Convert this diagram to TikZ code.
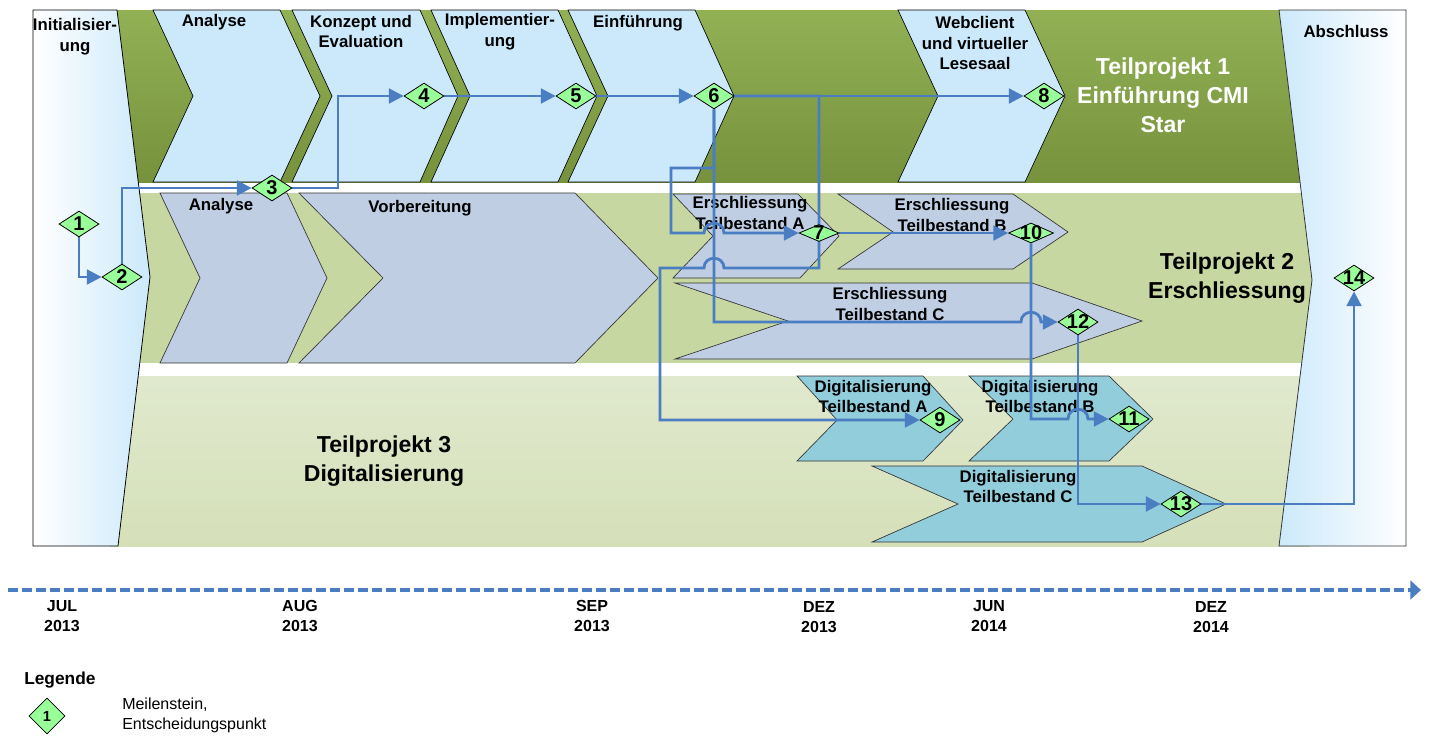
\documentclass[tikz,border=0pt]{standalone}
\usepackage{fontspec}
\setmainfont{Liberation Sans}
\usetikzlibrary{shapes.geometric,arrows.meta}
\definecolor{lineblue}{HTML}{4A7DC2}
\definecolor{panelblue}{HTML}{CCE9FB}
\definecolor{chevblue}{HTML}{CCE9FB}
\definecolor{greenA}{HTML}{92B155}
\definecolor{greenB}{HTML}{76923C}
\definecolor{midband}{HTML}{C6D7A1}
\definecolor{lowbandA}{HTML}{E0E9CD}
\definecolor{lowbandB}{HTML}{D5E0B9}
\definecolor{erschl}{HTML}{BFCEE3}
\definecolor{digi}{HTML}{92CDDC}
\definecolor{msgreen}{HTML}{99FF99}
\pgfdeclarelayer{bg}
\pgfdeclarelayer{lines}
\pgfsetlayers{bg,lines,main}
\begin{document}
\begin{tikzpicture}[x=0.75pt,y=-0.75pt,
  chevtop/.style={fill=chevblue,draw=black,line width=0.5pt},
  chevmid/.style={fill=erschl,draw=black!80,line width=0.5pt},
  chevdig/.style={fill=digi,draw=black!80,line width=0.5pt},
  lbl/.style={font=\bfseries\fontsize{12.6}{15.5}\selectfont, align=center, inner sep=0pt},
  biglbl/.style={font=\bfseries\fontsize{17.3}{21.8}\selectfont, align=center, inner sep=0pt},
  ms/.style={diamond, draw=black, fill=msgreen, line width=0.6pt, inner sep=0pt, minimum width=30pt, minimum height=19.5pt},
  msnum/.style={font=\bfseries\fontsize{15}{15}\selectfont, inner sep=0pt},
  conn/.style={draw=lineblue, line width=2.1pt, -{Triangle[length=11pt,width=11pt]}},
  tl/.style={font=\bfseries\fontsize{12}{15}\selectfont, align=center, inner sep=0pt},
]
\useasboundingbox (0,0) rectangle (1431,736);

\begin{pgfonlayer}{bg}
% bands
\shade[top color=greenA, bottom color=greenB] (110,10) rectangle (1310,182);
\fill[midband] (110,193) rectangle (1315,363);
\shade[top color=lowbandA, bottom color=lowbandB] (110,376) rectangle (1310,546);

% top chevrons
\path[chevtop] (153,10)--(280,10)--(320,96)--(280,182)--(153,182)--(193,96)--cycle;
\path[chevtop] (292,10)--(420,10)--(458,96)--(420,182)--(292,182)--(332,96)--cycle;
\path[chevtop] (431,10)--(558,10)--(597,96)--(558,182)--(431,182)--(470,96)--cycle;
\path[chevtop] (568,10)--(695,10)--(734,96)--(695,182)--(568,182)--(608,96)--cycle;
\path[chevtop] (898,10)--(1025,10)--(1065,96)--(1025,182)--(898,182)--(938,96)--cycle;

% middle chevrons
\path[chevmid] (160,193)--(287,193)--(327,278)--(287,363)--(160,363)--(200,278)--cycle;
\path[chevmid] (299,193)--(575,193)--(658,278)--(575,363)--(299,363)--(383,278)--cycle;
\path[chevmid] (673,194)--(798,194)--(839,236)--(800,278)--(673,278)--(713,236)--cycle;
\path[chevmid] (838,194)--(1013,194)--(1068,232)--(1013,269)--(838,269)--(893,232)--cycle;
\path[chevmid] (675,283)--(1032,283)--(1142,321)--(1032,359)--(675,359)--(788,321)--cycle;

% bottom chevrons
\path[chevdig] (797,376)--(923,376)--(963,420)--(923,461)--(797,461)--(837,420)--cycle;
\path[chevdig] (969,376)--(1109,376)--(1153,419)--(1109,461)--(969,461)--(1013,419)--cycle;
\path[chevdig] (872,466)--(1142,466)--(1226,504)--(1142,542)--(872,542)--(958,504)--cycle;

% end panels
\shade[left color=white, right color=panelblue, draw=black, line width=0.6pt]
  (33,10)--(117,10)--(150,277)--(118,546)--(33,546)--cycle;
\shade[left color=panelblue, right color=white, draw=black!80, line width=0.6pt]
  (1279,10)--(1312,280)--(1279,546)--(1406,546)--(1406,10)--cycle;

% labels
\node[lbl] (tinit) at (75,37) {Initialisier-\\ung};
\node[lbl] (tan1) at (214,22) {Analyse};
\node[lbl] (tkonz) at (361,31.5) {Konzept und\\Evaluation};
\node[lbl] (timpl) at (500,32) {Implementier-\\ung};
\node[lbl] (teinf) at (638,23) {Einführung};
\node[lbl] (tweb) at (975,43) {Webclient\\und virtueller\\Lesesaal};
\node[biglbl, text=white] (ttp1) at (1163,95) {Teilprojekt 1\\Einführung CMI\\Star};
\node[lbl] (tabs) at (1346,31) {Abschluss};
\node[lbl] (tan2) at (221,206) {Analyse};
\node[lbl] (tvorb) at (420,208) {Vorbereitung};
\node[lbl] (tea) at (750,213) {Erschliessung\\Teilbestand A};
\node[lbl] (teb) at (952,215) {Erschliessung\\Teilbestand B};
\node[lbl] (tec) at (890,304) {Erschliessung\\Teilbestand C};
\node[biglbl] (ttp2) at (1227,278) {Teilprojekt 2\\Erschliessung};
\node[lbl] (tda) at (873,396.5) {Digitalisierung\\Teilbestand A};
\node[lbl] (tdb) at (1040,396.5) {Digitalisierung\\Teilbestand B};
\node[lbl] (tdc) at (1018,486.5) {Digitalisierung\\Teilbestand C};
\node[biglbl] (ttp3) at (384,461.5) {Teilprojekt 3\\Digitalisierung};
\end{pgfonlayer}

% milestones
\node[ms, label={[msnum]center:1}] (m1) at (79,224) {};
\node[ms, label={[msnum]center:2}] (m2) at (122,277) {};
\node[ms, label={[msnum]center:3}] (m3) at (272,188) {};
\node[ms, label={[msnum]center:4}] (m4) at (424,96) {};
\node[ms, label={[msnum]center:5}] (m5) at (576,96) {};
\node[ms, label={[msnum]center:6}] (m6) at (714,96) {};
\node[ms, minimum height=12.75pt, label={[msnum]center:7}] (m7) at (819,233) {};
\node[ms, label={[msnum]center:8}] (m8) at (1044,96) {};
\node[ms, label={[msnum]center:9}] (m9) at (940,420) {};
\node[ms, minimum width=33.75pt, minimum height=15pt, label={[msnum]center:10}] (m10) at (1031,233) {};
\node[ms, label={[msnum]center:11}] (m11) at (1129,419) {};
\node[ms, label={[msnum]center:12}] (m12) at (1078,322) {};
\node[ms, label={[msnum]center:13}] (m13) at (1181,504) {};
\node[ms, label={[msnum]center:14}] (m14) at (1354,278) {};

% connectors
\begin{pgfonlayer}{lines}
\draw[conn] (m1.south) |- (m2.west);
\draw[conn] (m2.north) |- (m3.west);
\draw[conn] (m3.east) -- (338,188) |- (m4.west);
\draw[conn] (m4.east) -- (m5.west);
\draw[conn] (m5.east) -- (m6.west);
\draw[conn] (m6.east) -- (m8.west);
\draw[conn] (m6.south) -- (714,168) -- (671,168) -- (671,233) -- (704,233)
   .. controls (704,220) and (724,220) .. (724,233) -- (m7.west);
\draw[conn] (m6.east) -- (819,96) -- (819,268) -- (724,268)
   .. controls (724,255) and (704,255) .. (704,268) -- (660,268) -- (660,420) -- (m9.west);
\draw[conn] (m6.south) -- (714,322) -- (1021,322)
   .. controls (1021,309) and (1041,309) .. (1041,322) -- (m12.west);
\draw[conn] (m7.east) -- (m10.west);
\draw[conn] (m10.south) -- (1031,419) -- (1068,419)
   .. controls (1068,406) and (1088,406) .. (1088,419) -- (m11.west);
\draw[conn] (m12.south) |- (m13.west);
\draw[conn] (m13.east) -| (m14.south);
\end{pgfonlayer}

% timeline
\coordinate (tlA) at (8,590);
\coordinate (tlB) at (1421,590);
\draw[draw=lineblue, line width=3pt, dash pattern=on 7.5pt off 3pt, -{Triangle[length=8pt,width=14pt]}] (tlA) -- (tlB);
\node[tl] (d1) at (62,616) {JUL\\2013};
\node[tl] (d2) at (300,616) {AUG\\2013};
\node[tl] (d3) at (592,616) {SEP\\2013};
\node[tl] (d4) at (819,617) {DEZ\\2013};
\node[tl] (d5) at (989,616) {JUN\\2014};
\node[tl] (d6) at (1211,617) {DEZ\\2014};

% legend
\node[font=\bfseries\fontsize{13}{15}\selectfont, anchor=west, inner sep=0pt] (leg) at (24,680) {Legende};
\node[diamond, draw=black, fill=msgreen, line width=0.6pt, inner sep=0pt, minimum width=27pt, minimum height=27pt] (lgd) at (47,716) {};
\node[font=\bfseries\fontsize{11}{11}\selectfont, inner sep=0pt] (lgdn) at (lgd) {1};
\node[font=\fontsize{12}{15}\selectfont, align=left, anchor=west, inner sep=0pt] (legtxt) at (122,715) {Meilenstein,\\Entscheidungspunkt};
\end{tikzpicture}
\end{document}
